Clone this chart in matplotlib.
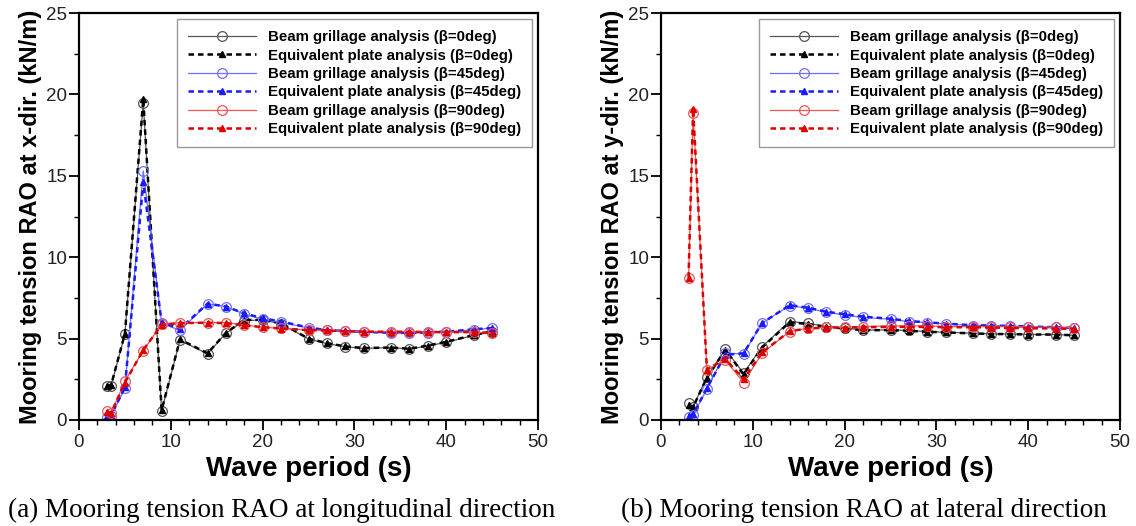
import matplotlib
matplotlib.use("Agg")
import matplotlib.pyplot as plt
from matplotlib.ticker import MultipleLocator

# ---------------- data ----------------
period = [3, 3.5, 5, 7, 9, 11, 14, 16, 18, 20, 22, 25, 27, 29, 31, 34, 36, 38, 40, 43, 45]

# (a) longitudinal (x-dir.)
a_beam_0 = [2.1, 2.1, 5.27, 19.5, 0.57, 4.9, 4.06, 5.33, 6.1, 6.15, 5.9, 4.98, 4.7, 4.5, 4.4, 4.45, 4.36, 4.55, 4.77, 5.2, 5.43]
a_plate_0 = [2.1, 2.15, 5.3, 19.7, 0.6, 4.95, 4.1, 5.35, 6.15, 6.15, 5.95, 5.0, 4.72, 4.52, 4.42, 4.45, 4.38, 4.57, 4.8, 5.22, 5.45]
a_beam_45 = [0.2, 0.25, 1.95, 15.3, 5.95, 5.5, 7.13, 6.97, 6.5, 6.2, 6.0, 5.65, 5.5, 5.45, 5.4, 5.33, 5.33, 5.37, 5.4, 5.55, 5.65]
a_plate_45 = [0.25, 0.3, 2.0, 14.6, 6.0, 5.6, 7.15, 6.97, 6.55, 6.25, 6.05, 5.68, 5.52, 5.47, 5.42, 5.36, 5.35, 5.39, 5.42, 5.57, 5.65]
a_beam_90 = [0.57, 0.4, 2.4, 4.26, 5.9, 5.98, 5.98, 5.98, 5.84, 5.7, 5.63, 5.53, 5.5, 5.45, 5.43, 5.43, 5.43, 5.4, 5.4, 5.39, 5.33]
a_plate_90 = [0.5, 0.45, 2.3, 4.3, 5.85, 5.95, 5.98, 5.95, 5.82, 5.7, 5.62, 5.52, 5.5, 5.45, 5.43, 5.42, 5.42, 5.4, 5.4, 5.4, 5.35]

# (b) lateral (y-dir.)
b_beam_0 = [1.02, 0.82, 2.66, 4.34, 2.87, 4.5, 6.05, 5.94, 5.74, 5.64, 5.53, 5.53, 5.5, 5.43, 5.39, 5.33, 5.29, 5.29, 5.25, 5.25, 5.2]
b_plate_0 = [0.95, 0.8, 2.6, 4.3, 2.8, 4.45, 6.0, 5.9, 5.72, 5.62, 5.52, 5.52, 5.48, 5.42, 5.38, 5.32, 5.28, 5.28, 5.25, 5.25, 5.2]
b_beam_45 = [0.2, 0.3, 1.9, 4.1, 4.06, 5.94, 7.03, 6.86, 6.62, 6.45, 6.3, 6.19, 6.05, 5.98, 5.9, 5.8, 5.8, 5.78, 5.74, 5.7, 5.66]
b_plate_45 = [0.25, 0.35, 1.95, 4.0, 4.1, 5.95, 7.05, 6.9, 6.65, 6.5, 6.35, 6.22, 6.08, 6.0, 5.92, 5.82, 5.8, 5.78, 5.74, 5.7, 5.66]
b_beam_90 = [8.75, 18.85, 3.07, 3.69, 2.3, 4.1, 5.43, 5.64, 5.7, 5.7, 5.74, 5.78, 5.78, 5.78, 5.74, 5.74, 5.74, 5.74, 5.7, 5.7, 5.68]
b_plate_90 = [8.75, 19.1, 3.1, 3.75, 2.5, 4.15, 5.45, 5.62, 5.68, 5.68, 5.7, 5.72, 5.72, 5.72, 5.7, 5.7, 5.68, 5.66, 5.64, 5.62, 5.6]

labels = ["Beam grillage analysis (\u03b2=0deg)",
          "Equivalent plate analysis (\u03b2=0deg)",
          "Beam grillage analysis (\u03b2=45deg)",
          "Equivalent plate analysis (\u03b2=45deg)",
          "Beam grillage analysis (\u03b2=90deg)",
          "Equivalent plate analysis (\u03b2=90deg)"]

ylabels = ["Mooring tension RAO at x-dir. (kN/m)", "Mooring tension RAO at y-dir. (kN/m)"]
captions = ["(a) Mooring tension RAO at longitudinal direction",
            "(b) Mooring tension RAO at lateral direction"]

plt.rcParams['font.family'] = ['Liberation Sans', 'DejaVu Sans']

fig = plt.figure(figsize=(11.36, 5.26), dpi=100)
axes = [fig.add_axes([79/1136, 106/526, 459/1136, 407/526]),
        fig.add_axes([661/1136, 106/526, 459/1136, 407/526])]

beam_colors = ['#555555', '#6f6fff', '#ee5555']
plate_colors = ['#000000', '#1a1aff', '#dd0000']

datasets = [
    [(a_beam_0, a_plate_0), (a_beam_45, a_plate_45), (a_beam_90, a_plate_90)],
    [(b_beam_0, b_plate_0), (b_beam_45, b_plate_45), (b_beam_90, b_plate_90)],
]

for ax, data, ylab, cap in zip(axes, datasets, ylabels, captions):
    handles = []
    for (beam, plate), bc, pc in zip(data, beam_colors, plate_colors):
        h1, = ax.plot(period, beam, color=bc, lw=0.9, marker='o', markersize=7,
                      markerfacecolor='none', markeredgecolor=bc, markeredgewidth=0.9)
        h2, = ax.plot(period, plate, color=pc, lw=1.8, ls=(0, (2.2, 1.6)), marker='^',
                      markersize=4, markerfacecolor=pc, markeredgecolor=pc)
        handles += [h1, h2]
    ax.set_xlim(0, 50)
    ax.set_ylim(0, 25)
    ax.xaxis.set_major_locator(MultipleLocator(10))
    ax.xaxis.set_minor_locator(MultipleLocator(2))
    ax.yaxis.set_major_locator(MultipleLocator(5))
    ax.yaxis.set_minor_locator(MultipleLocator(2.5))
    ax.tick_params(which='major', direction='out', length=7, width=1.3, labelsize=13.5,
                   pad=1.5, labelcolor='#222222')
    ax.tick_params(axis='x', which='major', pad=3)
    ax.tick_params(which='minor', direction='out', length=3.6, width=1.0)
    for s in ax.spines.values():
        s.set_linewidth(1.6)
    ax.set_xlabel("Wave period (s)", fontsize=20, fontweight='bold', labelpad=4)
    ax.set_ylabel(ylab, fontsize=17, fontweight='bold', labelpad=3)
    leg = ax.legend(handles, labels, loc='upper right', bbox_to_anchor=(0.987, 0.985),
                    borderaxespad=0, prop={'weight': 'bold', 'size': 10.8}, numpoints=1,
                    handlelength=4.5, handletextpad=0.8, labelspacing=0.29,
                    borderpad=0.75, fancybox=False, framealpha=1)
    leg.get_frame().set_edgecolor('#999999')
    leg.get_frame().set_linewidth(1.0)
    bb = ax.get_position()
    fig.text(bb.x0 + bb.width / 2 - 27/1136, 9/526, cap, ha='center', va='baseline',
             fontsize=19.5, family='Liberation Serif')

fig.savefig("out.png", dpi=100)
